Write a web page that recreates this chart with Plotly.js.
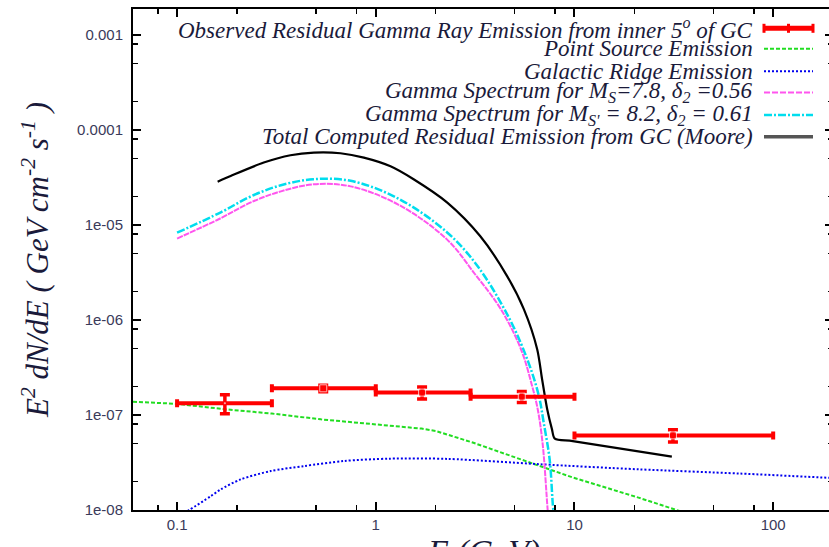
<!DOCTYPE html>
<html>
<head>
<meta charset="utf-8">
<script src="https://cdn.plot.ly/plotly-3.0.1.min.js"></script>
<style>
html,body{margin:0;padding:0;overflow:hidden;background:#fff;}
#chart{width:833px;height:547px;}
</style>
</head>
<body>
<div id="chart"></div>
<script>
// ---- Observed residual emission (bins) ----
const obsE    = [0.174, 0.544, 1.71, 5.43, 31.3];
const obsLo   = [0.1, 0.3, 1, 3, 10];
const obsHi   = [0.3, 1, 3, 10, 100];
const obsFlux = [1.33e-7, 1.91e-7, 1.72e-7, 1.56e-7, 6.1e-8];
const obsErr  = [0.30e-7, 0.15e-7, 0.25e-7, 0.21e-7, 0.9e-8];

// ---- Point source emission ----
const psE = [0.06, 0.1, 0.174, 0.3, 0.53, 1.0, 1.7, 2.0, 3.1, 6.7, 9.8, 21, 30, 40];
const psF = [1.38e-7, 1.31e-7, 1.15e-7, 1.035e-7, 9.0e-8, 7.98e-8, 7.19e-8, 6.8e-8, 5.1e-8, 2.9e-8, 2.2e-8, 1.35e-8, 1.06e-8, 8.7e-9];

// ---- Galactic ridge emission ----
const grE = [0.1, 0.115, 0.148, 0.166, 0.209, 0.296, 0.435, 0.69, 1.17, 2.3, 6.7, 21, 68, 200];
const grF = [8.5e-9, 1.0e-8, 1.4e-8, 1.65e-8, 2.1e-8, 2.57e-8, 2.9e-8, 3.28e-8, 3.47e-8, 3.45e-8, 3.03e-8, 2.68e-8, 2.42e-8, 2.17e-8];

// ---- Gamma spectrum M_S=7.8, d2=0.56 ----
const pkE = [0.1, 0.166, 0.235, 0.333, 0.485, 0.747, 1.29, 2.28, 3.16, 4.26, 5.38, 6.09, 6.53, 6.92, 7.33, 7.45];
const pkF = [7.2e-6, 1.18e-5, 1.73e-5, 2.26e-5, 2.68e-5, 2.55e-5, 1.65e-5, 7.06e-6, 3.03e-6, 1.30e-6, 4.92e-7, 2.1e-7, 1.15e-7, 4.9e-8, 1.0e-8, 7e-9];

// ---- Gamma spectrum M_S'=8.2, d2=0.61 ----
const cyE = [0.1, 0.166, 0.235, 0.333, 0.485, 0.747, 1.29, 2.28, 3.25, 4.72, 5.87, 6.62, 7.0, 7.5, 7.83, 7.99];
const cyF = [8.3e-6, 1.36e-5, 2.0e-5, 2.62e-5, 3.03e-5, 2.92e-5, 1.91e-5, 8.4e-6, 3.7e-6, 1.02e-6, 3.56e-7, 1.58e-7, 8.3e-8, 3.4e-8, 1.0e-8, 8e-9];

// ---- Total computed residual emission (Moore) ----
const totE = [0.16, 0.186, 0.273, 0.372, 0.488, 0.664, 0.871, 1.186, 1.55, 2.29, 3.35, 4.58, 5.56, 6.49, 6.87, 7.29, 7.7, 7.96, 9.8, 30.9];
const totF = [2.86e-5, 3.28e-5, 4.54e-5, 5.42e-5, 5.78e-5, 5.69e-5, 5.12e-5, 4.15e-5, 3.03e-5, 1.72e-5, 7.65e-6, 2.9e-6, 1.30e-6, 4.92e-7, 2.38e-7, 1.15e-7, 7.1e-8, 5.64e-8, 5.32e-8, 3.65e-8];

// ---- Axis ticks ----
const xTickVals = [0.1, 1, 10, 100];
const xTickText = ['0.1', '1', '10', '100'];
const xMinor = [0.08, 0.2, 0.5, 0.8, 2, 5, 8, 20, 50, 80];
const yTickVals = [1e-8, 1e-7, 1e-6, 1e-5, 1e-4, 1e-3];
const yTickText = ['1e-08', '1e-07', '1e-06', '1e-05', '0.0001', '0.001'];
const yMinor = [];
[1e-8, 1e-7, 1e-6, 1e-5, 1e-4].forEach(d => { [2, 5, 8].forEach(m => yMinor.push(m * d)); });

const xTitle = '<i>E (GeV)</i>';
const yTitle = '<i>E<sup>2</sup> dN/dE ( GeV cm<sup>-2</sup> s<sup>-1</sup> )</i>';
const legendLabels = [
  'Observed Residual Gamma Ray Emission from inner 5<sup>o</sup> of GC',
  'Point Source Emission',
  'Galactic Ridge Emission',
  'Gamma Spectrum for M<sub>S</sub>=7.8, δ<sub>2</sub> =0.56',
  "Gamma Spectrum for M<sub>S'</sub> = 8.2, δ<sub>2</sub> = 0.61",
  'Total Computed Residual Emission from GC (Moore)'
];

const C = {red:'#ff0000', green:'#22dd22', blue:'#0000ee', pink:'#ff55ee', cyan:'#00ddee', black:'#000000'};

const traces = [
  {x: psE, y: psF, mode:'lines', line:{color:C.green, width:2, dash:'4px,2px'}},
  {x: grE, y: grF, mode:'lines', line:{color:C.blue, width:2, dash:'2px,2px', shape:'spline', smoothing:0.8}},
  {x: pkE, y: pkF, mode:'lines', line:{color:C.pink, width:2, dash:'6px,1px', shape:'spline', smoothing:1}},
  {x: cyE, y: cyF, mode:'lines', line:{color:C.cyan, width:2.5, dash:'8px,2px,2px,2px', shape:'spline', smoothing:1}},
  {x: totE, y: totF, mode:'lines', line:{color:C.black, width:2.2, shape:'spline', smoothing:0.8}},
  {x: obsE, y: obsFlux, mode:'markers', marker:{symbol:'square', size:[1, 7, 7, 7, 7], color:C.red},
   error_x:{type:'data', symmetric:false,
            array: obsHi.map((h,i)=>h-obsE[i]), arrayminus: obsLo.map((l,i)=>obsE[i]-l),
            color:C.red, thickness:4, width:4},
   error_y:{type:'data', array: obsErr, color:C.red, thickness:3.5, width:5}}
];

// plot-area pixel geometry (layout only)
const L = 133, R = 833, T = 9, B = 510;
const px = v => (v - L) / (R - L);
const py = v => (B - v) / (B - T);

const rowY = [28.3, 48.8, 71.2, 92.5, 115, 136.7];
const annotations = legendLabels.map((t, i) => ({
  xref:'paper', yref:'paper', x: px(755), y: py(rowY[i]), xanchor:'right', yanchor:'middle',
  text: '<i>' + t + '</i>', showarrow:false,
  font:{family:'Liberation Serif, Times New Roman, serif', size:23, color:'#1a1a3a'}
}));
// x-axis title, placed low so that it is mostly cut by the page edge as in the source
annotations.push({xref:'paper', yref:'paper', x: px(483), y: py(531), xanchor:'center', yanchor:'top',
  text: xTitle, showarrow:false, font:{family:'Liberation Serif, serif', size:34, color:'#1a1a3a'}});

const sx0 = px(764), sx1 = px(813);
const shapes = [];
shapes.push({type:'line', xref:'paper', yref:'paper', x0:sx0, x1:sx1, y0:py(rowY[0]), y1:py(rowY[0]), line:{color:C.red, width:5}});
[764, 788.5, 813].forEach(xx => shapes.push({type:'line', xref:'paper', yref:'paper', x0:px(xx), x1:px(xx), y0:py(rowY[0]-4.5), y1:py(rowY[0]+4.5), line:{color:C.red, width:3}}));
const sampleStyles = [
  {color:C.green, width:2, dash:'4px,2px'},
  {color:C.blue, width:2, dash:'2px,2px'},
  {color:C.pink, width:2, dash:'6px,2px'},
  {color:C.cyan, width:2.5, dash:'8px,2px,2px,2px'},
  {color:'#555555', width:3.5}
];
sampleStyles.forEach((st, i) => shapes.push({type:'line', xref:'paper', yref:'paper', x0:sx0, x1:sx1, y0:py(rowY[i+1]), y1:py(rowY[i+1]), line:st}));

const tickFont = {family:'Liberation Sans, Arial, sans-serif', size:15, color:'#3a3a5a'};
const layout = {
  width: 833, height: 547,
  margin:{l:L, r:0, t:T, b:547-B},
  paper_bgcolor:'#fff', plot_bgcolor:'#fff',
  showlegend:false,
  xaxis:{type:'log', range:[Math.log10(0.06), Math.log10(200)],
         tickmode:'array', tickvals:xTickVals, ticktext:xTickText,
         ticks:'inside', ticklen:8, tickwidth:2, tickcolor:'#000',
         showline:true, linewidth:2, linecolor:'#000', mirror:'ticks',
         showgrid:false, zeroline:false, tickfont:tickFont,
         minor:{tickmode:'array', tickvals:xMinor, ticks:'inside', ticklen:5, tickwidth:1.5, tickcolor:'#000', showgrid:false},
         automargin:false},
  yaxis:{type:'log', range:[-8, -8 + (B - T) / 95],
         tickmode:'array', tickvals:yTickVals, ticktext:yTickText,
         ticks:'inside', ticklen:8, tickwidth:2, tickcolor:'#000',
         showline:true, linewidth:2, linecolor:'#000', mirror:'ticks',
         showgrid:false, zeroline:false, tickfont:tickFont, ticklabelstandoff:5,
         minor:{tickmode:'array', tickvals:yMinor, ticks:'inside', ticklen:5, tickwidth:1.5, tickcolor:'#000', showgrid:false},
         title:{text: yTitle, standoff:19, font:{family:'Liberation Serif, serif', size:31, color:'#1a1a3a'}},
         automargin:false},
  annotations: annotations,
  shapes: shapes
};

Plotly.newPlot('chart', traces, layout, {displayModeBar:false, staticPlot:true});
</script>
</body>
</html>
